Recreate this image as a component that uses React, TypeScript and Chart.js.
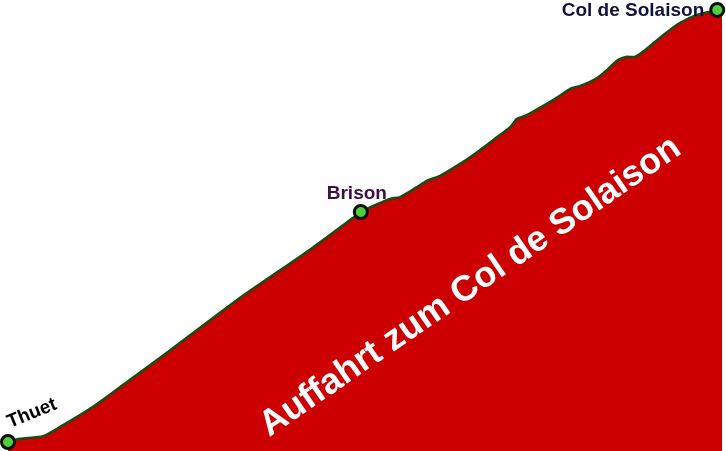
import React, { useEffect, useRef } from 'react';
import { Chart, registerables } from 'chart.js';

Chart.register(...registerables);

// elevation profile: distance from Thuet (km) and altitude (m)
const distanceKm = [
  0, 0.2, 0.59, 0.87, 1.43, 2.0, 2.55, 3.85, 5.08, 5.8, 5.93, 6.03,
  6.42, 6.59, 6.87, 7.04, 7.26, 7.65, 7.93, 8.18, 8.44, 8.55, 8.69, 8.82, 9.16, 9.48,
  9.61, 9.9, 10.07, 10.25, 10.4, 10.54, 10.71, 11.01, 11.29, 11.58, 11.92, 12.0,
];
const elevationM = [
  520, 527, 533, 553, 598, 653, 706, 835, 947, 1017, 1030, 1037,
  1059, 1063, 1085, 1099, 1110, 1141, 1167, 1192, 1218, 1236, 1243, 1252, 1278, 1305,
  1309, 1327, 1345, 1367, 1374, 1374, 1389, 1422, 1449, 1467, 1478, 1482,
];

// named places along the climb
const placeNames = ['Thuet', 'Brison', 'Col de Solaison'];
const placeKm = [0, 5.93, 11.92];
const placeElev = [520, 1030, 1478];

const chartTitle = 'Auffahrt zum Col de Solaison';

const FONT = '"Liberation Sans", Arial, sans-serif';

const labelPlugin = {
  id: 'placeLabels',
  afterDatasetsDraw(chart: any) {
    const { ctx, chartArea } = chart;
    const meta = chart.getDatasetMeta(1);

    // big rotated title inside the red area
    ctx.save();
    ctx.font = `bold 36px ${FONT}`;
    ctx.fillStyle = '#ffffff';
    ctx.textAlign = 'center';
    ctx.textBaseline = 'alphabetic';
    ctx.translate(chartArea.left + 468, chartArea.top + 295);
    ctx.rotate((-34.5 * Math.PI) / 180);
    ctx.fillText(chartTitle, 0, 0);
    ctx.restore();

    const styles = [
      { color: '#000000', align: 'left', dx: 2, dy: -14, rot: -22 },
      { color: '#3a1042', align: 'center', dx: -4, dy: -13, rot: 0 },
      { color: '#12123f', align: 'right', dx: -13, dy: 6, rot: 0 },
    ];
    meta.data.forEach((pt: any, i: number) => {
      const s = styles[i];
      ctx.save();
      ctx.font = `bold 19px ${FONT}`;
      ctx.fillStyle = s.color;
      ctx.textAlign = s.align;
      ctx.textBaseline = 'alphabetic';
      ctx.translate(pt.x + s.dx, pt.y + s.dy);
      ctx.rotate((s.rot * Math.PI) / 180);
      ctx.fillText(placeNames[i], 0, 0);
      ctx.restore();
    });
  },
};

export default function App() {
  const canvasRef = useRef<HTMLCanvasElement>(null);
  const chartRef = useRef<Chart | null>(null);

  useEffect(() => {
    document.body.style.margin = '0';
    if (!canvasRef.current) return;
    if (chartRef.current) chartRef.current.destroy();

    chartRef.current = new Chart(canvasRef.current, {
      type: 'line',
      data: {
        datasets: [
          {
            data: distanceKm.map((x, i) => ({ x, y: elevationM[i] })),
            borderColor: '#1b4a12',
            borderWidth: 2.5,
            backgroundColor: '#cc0000',
            fill: 'start',
            pointRadius: 0,
            tension: 0.2,
            order: 1,
          },
          {
            data: placeKm.map((x, i) => ({ x, y: placeElev[i] })),
            showLine: false,
            pointRadius: 6.5,
            pointBackgroundColor: '#4fcf3a',
            pointBorderColor: '#0a0f06',
            pointBorderWidth: 3,
            clip: false as any,
            order: 0,
          },
        ],
      },
      options: {
        animation: false,
        responsive: false,
        maintainAspectRatio: false,
        layout: { autoPadding: false, padding: { left: 8, right: 4, top: 0, bottom: 0 } },
        scales: {
          x: { type: 'linear', min: 0, max: 12, display: false },
          y: { type: 'linear', min: 500, max: 1500, display: false },
        },
        plugins: {
          legend: { display: false },
          tooltip: { enabled: false },
        },
      },
      plugins: [labelPlugin],
    });

    return () => {
      if (chartRef.current) {
        chartRef.current.destroy();
        chartRef.current = null;
      }
    };
  }, []);

  return (
    <div style={{ position: 'fixed', left: 0, top: 0, width: 726, height: 451, background: '#ffffff' }}>
      <canvas ref={canvasRef} width={726} height={451} style={{ width: 726, height: 451 }} />
    </div>
  );
}
